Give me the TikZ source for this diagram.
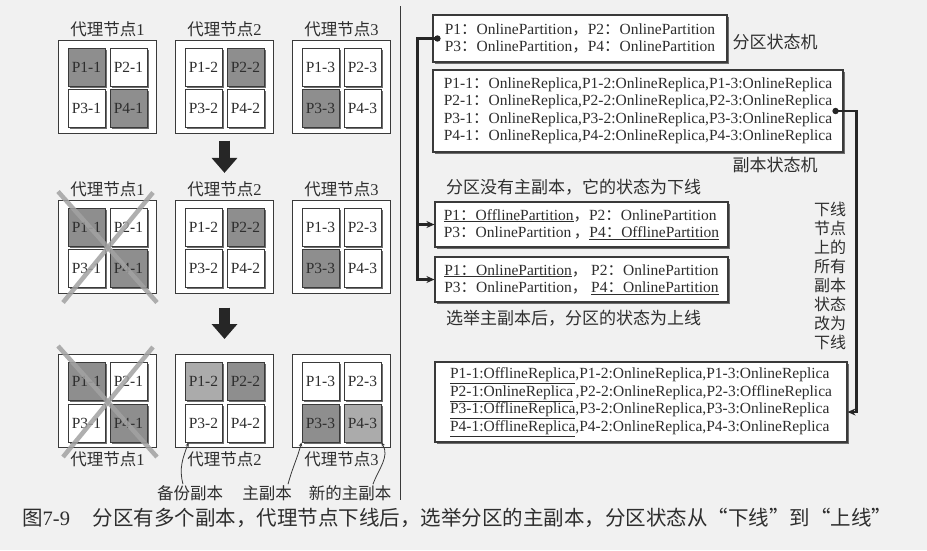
\documentclass[tikz,border=0pt]{standalone}
\usepackage{fontspec}
\setmainfont{Liberation Serif}
\newfontfamily\cjk{Noto Sans CJK SC}
\usepackage{tikz}
\usetikzlibrary{arrows.meta,positioning,shadows}
\definecolor{kfink}{HTML}{2E2E2E}
\definecolor{kfline}{HTML}{3A3A3A}
\definecolor{kfprim}{HTML}{8E8E8E}
\definecolor{kfnew}{HTML}{ABABAB}
\definecolor{kfcross}{HTML}{A2A2A2}
\definecolor{kfpaper}{HTML}{F1F1F1}
\newcommand{\zcolon}{{\cjk ：}}
\newcommand{\zcomma}{{\cjk ，}}

\begin{document}
\begin{tikzpicture}[
  x=1pt, y=1pt,
  node distance=18pt,
  every node/.style={text=kfink},
  broker/.style={rectangle, draw=kfline, line width=1pt, fill=white,
                 minimum width=98pt, minimum height=93pt},
  cell/.style={rectangle, draw=kfline, line width=1pt, fill=white, inner sep=0pt,
               minimum width=37pt, minimum height=38pt, font=\fontsize{15.5}{17}\selectfont,
               drop shadow={shadow xshift=1.6pt, shadow yshift=-1.6pt, fill=black!70, opacity=.8}},
  plain/.style={fill=white},
  prim/.style={fill=kfprim},
  newprim/.style={fill=kfnew},
  bname/.style={font=\fontsize{16.5}{18}\selectfont, inner sep=1pt},
  statebox/.style={rectangle, draw=kfline, line width=1.1pt, fill=white, align=left,
                   inner sep=4pt, font=\fontsize{15.5}{17.5}\selectfont,
                   drop shadow={shadow xshift=1.8pt, shadow yshift=-1.8pt, fill=black!70, opacity=.8}},
  note/.style={font=\cjk\fontsize{17}{19}\selectfont, inner sep=1pt},
  conn/.style={draw=black!85, line width=2.4pt},
  tip/.style={-{Stealth[length=8pt,width=7pt]}},
  bigarr/.style={draw=black!85, line width=11pt, -{Triangle[width=25pt,length=15pt]}},
  crossout/.style={draw=kfcross, line width=4.5pt, opacity=.85},
  ptr/.style={draw=kfline, line width=.8pt, -{Stealth[length=4pt,width=3.5pt]}},
  divider/.style={draw=kfline, line width=.9pt}
]
\path[use as bounding box, fill=kfpaper] (0,0) rectangle (927,-550);

% brokers, three states from top to bottom
\node[broker] (b11) at (107.5,-86.5) {};
\node[broker, right=of b11] (b12) {};
\node[broker, right=of b12] (b13) {};
\node[broker] (b21) at (107.5,-246.5) {};
\node[broker, right=of b21] (b22) {};
\node[broker, right=of b22] (b23) {};
\node[broker] (b31) at (107.5,-401) {};
\node[broker, right=of b31] (b32) {};
\node[broker, right=of b32] (b33) {};

\foreach \n/\k/\fa/\fb/\fc/\fd in {b11/1/prim/plain/plain/prim, b12/2/plain/prim/plain/plain,
    b13/3/plain/plain/prim/plain, b21/1/prim/plain/plain/prim, b22/2/plain/prim/plain/plain,
    b23/3/plain/plain/prim/plain, b31/1/prim/plain/plain/prim, b32/2/newprim/prim/plain/plain,
    b33/3/plain/plain/prim/newprim} {
  \node[cell, \fa] (\n-1) at ([xshift=-21pt, yshift=19.5pt]\n.center) {P1-\k};
  \node[cell, \fb] (\n-2) at ([xshift=21pt, yshift=19.5pt]\n.center) {P2-\k};
  \node[cell, \fc] (\n-3) at ([xshift=-21pt, yshift=-22pt]\n.center) {P3-\k};
  \node[cell, \fd] (\n-4) at ([xshift=21pt, yshift=-22pt]\n.center) {P4-\k};
}

\node[bname, above=1pt of b11] (n11) {{\cjk 代理节点}1};
\node[bname, above=1pt of b12] (n12) {{\cjk 代理节点}2};
\node[bname, above=1pt of b13] (n13) {{\cjk 代理节点}3};
\node[bname, above=1pt of b21] (n21) {{\cjk 代理节点}1};
\node[bname, above=1pt of b22] (n22) {{\cjk 代理节点}2};
\node[bname, above=1pt of b23] (n23) {{\cjk 代理节点}3};
\node[bname, below=2pt of b31] (n31) {{\cjk 代理节点}1};
\node[bname, below=2pt of b32] (n32) {{\cjk 代理节点}2};
\node[bname, below=2pt of b33] (n33) {{\cjk 代理节点}3};

\draw[bigarr, shorten <=7pt, shorten >=8pt] (b12.south) -- (n22.north);
\draw[bigarr, shorten <=14pt, shorten >=15pt] (b22.south) -- (b32.north);

% broker 1 goes offline
\foreach \n in {b21, b31} {
  \draw[crossout] ([yshift=8pt]\n.north west) -- ([yshift=-9pt]\n.south east);
  \draw[crossout] ([xshift=-4pt, yshift=7pt]\n.north east) -- ([xshift=5pt, yshift=-9pt]\n.south west);
}

\node[bname, font=\cjk\fontsize{16.5}{18}\selectfont] (bak) at (190,-493) {备份副本};
\node[bname, font=\cjk\fontsize{16.5}{18}\selectfont] (pri) at (267,-493) {主副本};
\node[bname, font=\cjk\fontsize{16.5}{18}\selectfont] (npri) at (350,-493) {新的主副本};
\draw[ptr] ([xshift=-7pt]bak.north) to[out=105, in=250] ([xshift=4pt]b32-3.south west);
\draw[ptr] ([xshift=21pt]pri.north) to[out=75, in=-105] (b33-3.south west);
\draw[ptr] ([xshift=23pt]npri.north) to[out=70, in=-60] (b33-4.south east);

\draw[divider] (400,-6) -- (400,-500);

% state machines
\node[statebox, minimum width=294pt, minimum height=47pt] (pa) at (580,-38.5)
  {P1\zcolon OnlinePartition\zcomma P2\zcolon OnlinePartition\\
   P3\zcolon OnlinePartition\zcomma P4\zcolon OnlinePartition};
\node[statebox, minimum width=410pt, minimum height=82pt] (pb) at (638,-111)
  {P1-1\zcolon OnlineReplica,P1-2:OnlineReplica,P1-3:OnlineReplica\\
   P2-1\zcolon OnlineReplica,P2-2:OnlineReplica,P2-3:OnlineReplica\\
   P3-1\zcolon OnlineReplica,P3-2:OnlineReplica,P3-3:OnlineReplica\\
   P4-1\zcolon OnlineReplica,P4-2:OnlineReplica,P4-3:OnlineReplica};
\node[statebox, minimum width=293pt, minimum height=45pt] (pc) at (581.5,-224.5)
  {\underline{P1\zcolon OfflinePartition}\zcomma P2\zcolon OnlinePartition\\
   P3\zcolon OnlinePartition\,\zcomma\underline{P4\zcolon OfflinePartition}};
\node[statebox, minimum width=293pt, minimum height=45pt] (pd) at (581.5,-279.5)
  {\underline{P1\zcolon OnlinePartition}\zcomma\ P2\zcolon OnlinePartition\\
   P3\zcolon OnlinePartition\zcomma\ \underline{P4\zcolon OnlinePartition}};
\node[statebox, minimum width=412pt, minimum height=80pt] (pe) at (641,-402)
  {\underline{P1-1:OfflineReplica},P1-2:OnlineReplica,P1-3:OnlineReplica\\
   \underline{P2-1:OnlineReplica}\,,P2-2:OnlineReplica,P2-3:OfflineReplica\\
   \underline{P3-1:OfflineReplica},P3-2:OnlineReplica,P3-3:OnlineReplica\\
   \underline{P4-1:OfflineReplica},P4-2:OnlineReplica,P4-3:OnlineReplica};

\node[note] (la) at (775,-42) {分区状态机};
\node[note] (lb) at (775,-165) {副本状态机};
\node[note, anchor=west] (lc) at (445,-187) {分区没有主副本，它的状态为下线};
\node[note, anchor=west] (ld) at (445,-318) {选举主副本后，分区的状态为上线};
\node[note, align=center, font=\cjk\fontsize{16}{19}\selectfont] (lv) at (830,-276)
  {下线\\节点\\上的\\所有\\副本\\状态\\改为\\下线};

\coordinate (pdot) at ([xshift=5pt]pa.west);
\coordinate (rdot) at ([xshift=-8pt]pb.east);
\fill[black!85] (pdot) circle (3.2pt);
\fill[black!85] (rdot) circle (3.2pt);
\draw[conn, tip] (pdot) -- ++(-20,0) |- (pc.west);
\draw[conn, tip] (pdot) -- ++(-20,0) |- (pd.west);
\draw[conn, tip] (rdot) -- ++(21,0) |- ([yshift=-10pt]pe.east);

\node[anchor=west, font=\fontsize{20.5}{22}\selectfont, inner sep=0pt] (cap) at (22,-518)
  {{\cjk 图}7-9\hspace{1.1em}{\cjk 分区有多个副本，代理节点下线后，选举分区的主副本，分区状态从“下线”到“上线”}};
\end{tikzpicture}
\end{document}
